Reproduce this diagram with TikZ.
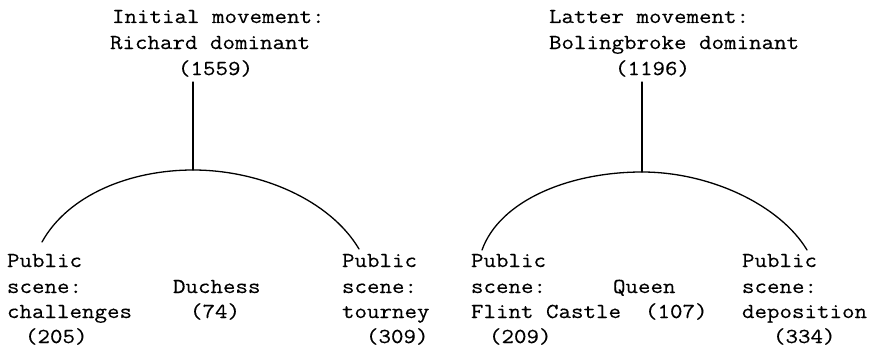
\documentclass[tikz,border=0pt]{standalone}
\usepackage{fontspec}
\setmainfont{Latin Modern Mono}[FakeStretch=1.14,FakeBold=0.3]
\begin{document}
\begin{tikzpicture}[x=1pt,y=-1pt,
  txt/.style={anchor=base west,inner sep=0pt,outer sep=0pt,font=\fontsize{21.3}{25}\selectfont},
  link/.style={line width=1.3pt,line cap=round,line join=round}]
\useasboundingbox (0,0) rectangle (878,348);
% top labels
\node[txt] (iA) at (112,23) {Initial movement:};
\node[txt] (iB) at (110,49) {Richard dominant};
\node[txt] (iC) at (178,75) {(1559)};
\node[txt] (lA) at (549,23) {Latter movement:};
\node[txt] (lB) at (549,49) {Bolingbroke dominant};
\node[txt] (lC) at (615,75) {(1196)};
% left tree children
\node[txt] (p1a) at (7,267) {Public};
\node[txt] (p1b) at (7,293) {scene:};
\node[txt] (p1c) at (7,318) {challenges};
\node[txt] (p1d) at (25,343) {(205)};
\node[txt] (duA) at (173,293) {Duchess};
\node[txt] (duB) at (190,318) {(74)};
\node[txt] (p2a) at (342,267) {Public};
\node[txt] (p2b) at (342,293) {scene:};
\node[txt] (p2c) at (342,318) {tourney};
\node[txt] (p2d) at (366,343) {(309)};
% right tree children
\node[txt] (p3a) at (471,267) {Public};
\node[txt] (p3b) at (471,293) {scene:};
\node[txt] (p3c) at (471,318) {Flint Castle};
\node[txt] (p3d) at (489,343) {(209)};
\node[txt] (quA) at (613,293) {Queen};
\node[txt] (quB) at (645,318) {(107)};
\node[txt] (p4a) at (742,267) {Public};
\node[txt] (p4b) at (742,293) {scene:};
\node[txt] (p4c) at (742,318) {deposition};
\node[txt] (p4d) at (773,343) {(334)};
% connector points
\coordinate (vL) at (193,82);
\coordinate (aL) at (193,170);
\coordinate (eL1) at (42,242);
\coordinate (eL2) at (359,249);
\coordinate (vR) at (642,82);
\coordinate (aR) at (642,172);
\coordinate (eR1) at (482,250);
\coordinate (eR2) at (807,250);
% connectors
\draw[link] (vL) -- (aL);
\draw[link] (eL1) .. controls (68,195) and (130,170) .. (aL)
               .. controls (260,170) and (330,200) .. (eL2);
\draw[link] (vR) -- (aR);
\draw[link] (eR1) .. controls (500,200) and (570,172) .. (aR)
               .. controls (710,172) and (780,205) .. (eR2);
\end{tikzpicture}
\end{document}
